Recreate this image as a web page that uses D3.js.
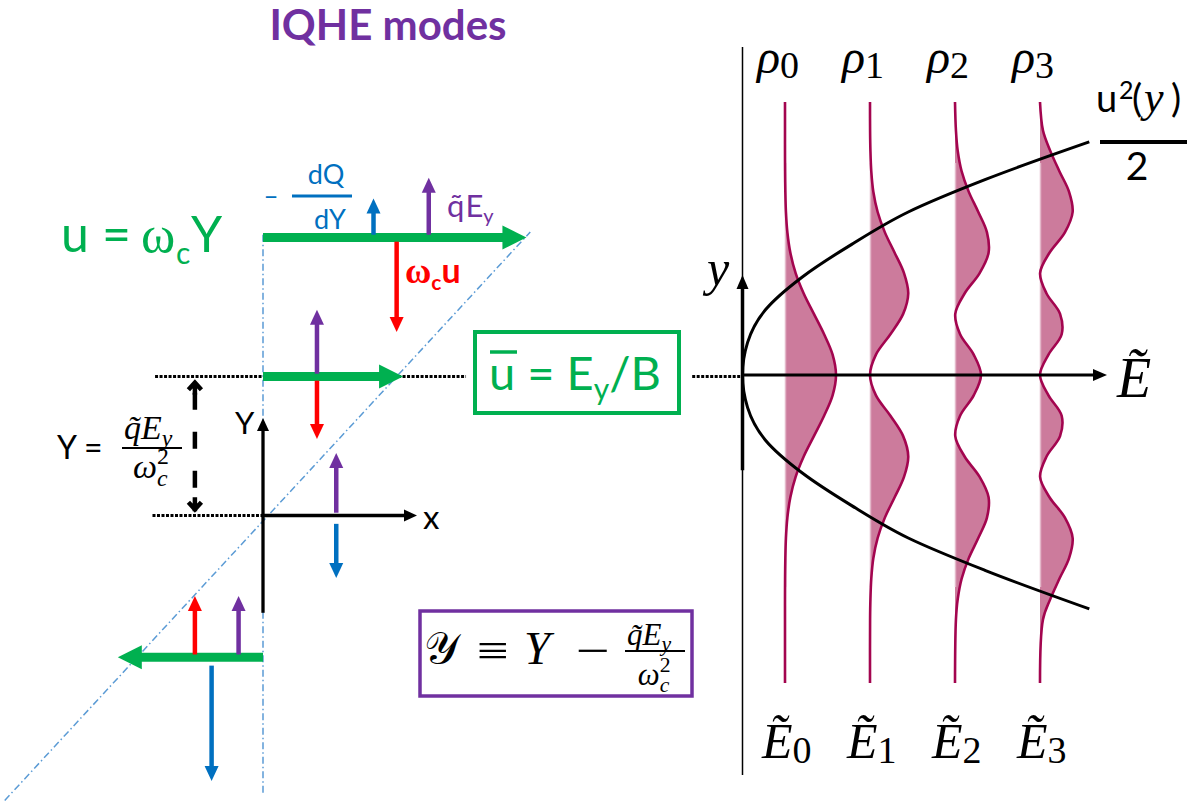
<!DOCTYPE html>
<html>
<head>
<meta charset="utf-8">
<script src="https://cdn.jsdelivr.net/npm/d3@7"></script>
<style>
body { margin: 0; background: #fff; }
svg { display: block; }
text { font-family: Lato, "Open Sans", sans-serif; }
.math { font-family: "Liberation Serif", "Times New Roman", serif; font-style: italic; }
.rm { font-family: "Liberation Serif", "Times New Roman", serif; font-style: normal; }
</style>
</head>
<body>
<div id="plot-container"></div>
<script>
// ---------- data ----------
// left panel: guiding-centre rows (Y) and drift velocity u = wc*Y
const rowY = [2.0, 1.0, -1.02];
const rowU = [2.05, 1.09, -1.13];
// force arrows on each row
const forceKind = ["dQ", "qE", "wu", "qE", "wu", "qE", "dQ", "wu", "qE", "dQ"];
const forceU = [0.86, 1.29, 1.04, 0.42, 0.42, 0.57, 0.57, -0.53, -0.19, -0.40];
const forceY0 = [2.02, 2.02, 1.97, 1.02, 0.97, 0.02, -0.06, -1.0, -1.0, -1.08];
const forceLen = [0.26, 0.41, -0.65, 0.46, -0.42, 0.43, -0.39, 0.42, 0.42, -0.83];
// dash-dot line u = wc*Y
const diagU = [-2.01, 2.08];
const diagY = [-2.05, 2.04];

// right panel: Landau levels and densities
const levelE = [0.5, 1.5, 2.5, 3.5];
const levelNames = ["0", "1", "2", "3"];
const rhoY = [3.35, 3.0, 2.75, 2.5, 2.25, 2.0, 1.75, 1.5, 1.25, 1.0, 0.75, 0.5, 0.25, 0,
  -0.25, -0.5, -0.75, -1.0, -1.25, -1.5, -1.75, -2.0, -2.25, -2.5, -2.75, -3.0, -3.78];
const rho0 = [0, 0, 0, 0.001, 0.004, 0.011, 0.028, 0.063, 0.125, 0.22, 0.34, 0.46, 0.56, 0.60,
  0.56, 0.46, 0.34, 0.22, 0.125, 0.063, 0.028, 0.011, 0.004, 0.001, 0, 0, 0];
const rho1 = [0, 0.001, 0.005, 0.015, 0.039, 0.09, 0.175, 0.29, 0.40, 0.45, 0.39, 0.24, 0.07, 0,
  0.07, 0.24, 0.39, 0.45, 0.40, 0.29, 0.175, 0.09, 0.039, 0.015, 0.005, 0.001, 0];
const rho2 = [0, 0.011, 0.032, 0.078, 0.161, 0.274, 0.376, 0.395, 0.29, 0.113, 0.003, 0.06, 0.22, 0.306,
  0.22, 0.06, 0.003, 0.113, 0.29, 0.395, 0.376, 0.274, 0.161, 0.078, 0.032, 0.011, 0];
const rho3 = [0, 0.035, 0.121, 0.228, 0.341, 0.384, 0.293, 0.112, 0.001, 0.077, 0.236, 0.255, 0.10, 0,
  0.10, 0.255, 0.236, 0.077, 0.001, 0.112, 0.293, 0.384, 0.341, 0.228, 0.121, 0.035, 0];
// u^2(y)/2 curve
const parY = [2.86, 2.4, 2.0, 1.6, 1.2, 0.8, 0.4, 0, -0.4, -0.8, -1.2, -1.6, -2.0, -2.4, -2.87];
const parE = [4.08, 2.86, 1.95, 1.28, 0.70, 0.27, 0.06, 0, 0.06, 0.27, 0.70, 1.28, 1.95, 2.86, 4.08];

const green = "#00b050", blue = "#0070c0", purple = "#7030a0", red = "#ff0000", guide = "#5b9bd5";
const forceColor = {dQ: blue, qE: purple, wu: red};
const rhoFill = "#cc7b9c", rhoLine = "#a3054f";

const W = 1191, H = 801;
const svg = d3.select("#plot-container").append("svg").attr("width", W).attr("height", H);
svg.append("rect").attr("width", W).attr("height", H).attr("fill", "#fff");

// scales
const xL = d3.scaleLinear().domain([0, 1]).range([263, 391.5]);
const yL = d3.scaleLinear().domain([0, 1]).range([515.5, 376.5]);
const xR = d3.scaleLinear().domain([0, 1]).range([742.5, 827.5]);
const yR = d3.scaleLinear().domain([0, 1]).range([375, 293.5]);

function arrow(g, x1, y1, x2, y2, color, w, hl, hw) {
    const dx = x2 - x1, dy = y2 - y1, L = Math.hypot(dx, dy);
    const ux = dx / L, uy = dy / L;
    const bx = x2 - ux * hl, by = y2 - uy * hl;
    g.append("line")
        .attr("x1", x1).attr("y1", y1)
        .attr("x2", bx + ux).attr("y2", by + uy)
        .attr("stroke", color).attr("stroke-width", w);
    const px = -uy * hw / 2, py = ux * hw / 2;
    g.append("path")
        .attr("d", `M${x2},${y2}L${bx + px},${by + py}L${bx - px},${by - py}Z`)
        .attr("fill", color);
}

// ---------- left panel ----------
const left = svg.append("g");

// dotted reference lines
const dotted = [[xL(-0.84), xL(1.58), yL(1)], [xL(3.34), 742, yL(1)], [xL(-0.86), xL(0), yL(0)]];
left.selectAll("line.dot")
    .data(dotted)
    .enter().append("line")
    .attr("x1", d => d[0]).attr("x2", d => d[1])
    .attr("y1", d => d[2]).attr("y2", d => d[2])
    .attr("stroke", "#000").attr("stroke-width", 3)
    .attr("stroke-dasharray", "3,1.5");

// dash-dot guides
left.append("line")
    .attr("x1", xL(0)).attr("x2", xL(0))
    .attr("y1", yL(2.02)).attr("y2", yL(-2.0))
    .attr("stroke", guide).attr("stroke-width", 1.5)
    .attr("stroke-dasharray", "7,3,1.5,3");
left.append("line")
    .attr("x1", xL(diagU[0])).attr("y1", yL(diagY[0]))
    .attr("x2", xL(diagU[1])).attr("y2", yL(diagY[1]))
    .attr("stroke", guide).attr("stroke-width", 1.5)
    .attr("stroke-dasharray", "7,3,1.5,3");

// X, Y axes
arrow(left, xL(0), yL(-0.7), xL(0), 418, "#000", 3.3, 13, 12);
arrow(left, xL(0) - 1.5, yL(0), 417, yL(0), "#000", 3.3, 13, 12);

// dashed double arrow for the displacement qE/wc^2
const dX = xL(-0.53);
left.append("line")
    .attr("x1", dX).attr("x2", dX)
    .attr("y1", yL(0.97)).attr("y2", yL(0.03))
    .attr("stroke", "#000").attr("stroke-width", 4.5)
    .attr("stroke-dasharray", "0,12,17,10");
[[yL(0.97), 1], [yL(0.03), -1]].forEach(([ty, s]) => {
    left.append("path")
        .attr("d", `M${dX - 6.5},${ty + s * 9}L${dX},${ty + s * 2}L${dX + 6.5},${ty + s * 9}M${dX},${ty + s * 2}L${dX},${ty + s * 14}`)
        .attr("fill", "none").attr("stroke", "#000").attr("stroke-width", 4.5);
});

// green velocity arrows
rowY.forEach((Y, i) => {
    arrow(left, xL(0), yL(Y), xL(rowU[i]), yL(Y), green, 9, 24, 24);
});

// force arrows
forceKind.forEach((k, i) => {
    arrow(left, xL(forceU[i]), yL(forceY0[i]), xL(forceU[i]), yL(forceY0[i] + forceLen[i]),
        forceColor[k], 4.5, 15, 14);
});

// boxes
left.append("rect").attr("x", 475).attr("y", 332).attr("width", 204).attr("height", 81)
    .attr("fill", "#fff").attr("stroke", green).attr("stroke-width", 4);
left.append("rect").attr("x", 420).attr("y", 611).attr("width", 272).attr("height", 85)
    .attr("fill", "#fff").attr("stroke", purple).attr("stroke-width", 3.5);

// ---------- left panel text ----------
svg.append("text").attr("x", 388).attr("y", 40).attr("text-anchor", "middle")
    .attr("font-size", 42).attr("font-weight", 700).attr("fill", purple).text("IQHE modes");

let t = svg.append("text").attr("y", 252).attr("font-size", 50).attr("fill", green);
t.append("tspan").attr("x", 61).text("u");
t.append("tspan").attr("x", 102).text("=");
t.append("tspan").attr("x", 141).attr("class", "rm").attr("font-size", 52).text("ω");
t.append("tspan").attr("x", 176).attr("font-size", 30).attr("dy", 12).text("c");
t.append("tspan").attr("x", 191).attr("dy", -12).text("Y");

// -dQ/dY
svg.append("text").attr("x", 271).attr("y", 205).attr("text-anchor", "middle")
    .attr("font-size", 26).attr("fill", blue).text("–");
svg.append("line").attr("x1", 292).attr("x2", 352).attr("y1", 196).attr("y2", 196)
    .attr("stroke", blue).attr("stroke-width", 3);
svg.append("text").attr("x", 326).attr("y", 184).attr("text-anchor", "middle")
    .attr("font-size", 27).attr("fill", blue).text("dQ");
svg.append("text").attr("x", 330).attr("y", 229).attr("text-anchor", "middle")
    .attr("font-size", 27).attr("fill", blue).text("dY");

// q~E_y
t = svg.append("text").attr("x", 447).attr("y", 217).attr("font-size", 31).attr("fill", purple);
t.append("tspan").text("q\u0303");
t.append("tspan").attr("dx", 1).text("E");
t.append("tspan").attr("font-size", 20).attr("dy", 6).text("y");

// wc u
t = svg.append("text").attr("x", 405).attr("y", 283).attr("font-size", 34).attr("font-weight", 700).attr("fill", red);
t.append("tspan").attr("class", "rm").attr("font-size", 36).text("ω");
t.append("tspan").attr("font-size", 21).attr("dy", 7).text("c");
t.append("tspan").attr("dy", -7).text("u");

// axis labels
svg.append("text").attr("x", 235).attr("y", 434).attr("font-size", 31).text("Y");
svg.append("text").attr("x", 423).attr("y", 529).attr("font-size", 33).text("x");

// Y = q~E_y / wc^2
svg.append("text").attr("x", 57).attr("y", 459).attr("font-size", 32).text("Y =");
function fracQE(x, yNum, yBar, yDen, size, barW) {
    t = svg.append("text").attr("class", "math").attr("x", x).attr("y", yNum).attr("font-size", size);
    t.append("tspan").text("q\u0303E");
    t.append("tspan").attr("font-size", size * 0.7).attr("dy", size * 0.2).text("y");
    svg.append("line").attr("x1", x - 2).attr("x2", x - 2 + barW).attr("y1", yBar).attr("y2", yBar)
        .attr("stroke", "#000").attr("stroke-width", 2);
    t = svg.append("text").attr("class", "math").attr("x", x + barW / 2 - size * 0.62).attr("y", yDen).attr("font-size", size);
    t.append("tspan").text("ω");
    t.append("tspan").attr("class", "rm").attr("font-size", size * 0.7).attr("dy", -size * 0.42).text("2");
    t.append("tspan").attr("font-size", size * 0.7).attr("dx", -size * 0.35).attr("dy", size * 0.66).text("c");
}
fracQE(124, 439, 448, 478, 34, 60);

// box texts
t = svg.append("text").attr("x", 489).attr("y", 390).attr("font-size", 47).attr("fill", green);
t.append("tspan").text("u = E");
t.append("tspan").attr("font-size", 30).attr("dy", 10).text("y");
t.append("tspan").attr("dy", -10).text("/B");
svg.append("line").attr("x1", 490).attr("x2", 517).attr("y1", 352).attr("y2", 352)
    .attr("stroke", green).attr("stroke-width", 3.5);

svg.append("text").attr("x", 424).attr("y", 663).attr("font-size", 44)
    .attr("font-family", "'DejaVu Serif', 'DejaVu Sans', serif").text("𝒴");
svg.append("text").attr("class", "rm").attr("x", 477).attr("y", 666).attr("font-size", 46)
    .attr("textLength", 32).attr("lengthAdjust", "spacingAndGlyphs").text("≡");
svg.append("text").attr("class", "math").attr("x", 524).attr("y", 664).attr("font-size", 47).text("Y");
svg.append("text").attr("class", "rm").attr("x", 576).attr("y", 666).attr("font-size", 46)
    .attr("textLength", 34).attr("lengthAdjust", "spacingAndGlyphs").text("−");
fracQE(627, 645, 651, 685, 31, 60);

// ---------- right panel ----------
const right = svg.append("g");

right.append("line").attr("x1", xR(0)).attr("x2", xR(0)).attr("y1", 47).attr("y2", 775)
    .attr("stroke", "#000").attr("stroke-width", 1.5);

const rhoSets = [rho0, rho1, rho2, rho3];
const area = d3.area().curve(d3.curveCatmullRom);
const line = d3.line().curve(d3.curveCatmullRom);
rhoSets.forEach((vals, n) => {
    const pts = vals.map((a, i) => ({y: rhoY[i], a: a}));
    right.append("path")
        .attr("d", area.y(d => yR(d.y)).x0(xR(levelE[n])).x1(d => xR(levelE[n] + d.a))(pts))
        .attr("fill", rhoFill);
    right.append("line")
        .attr("x1", xR(levelE[n]) + 0.5).attr("x2", xR(levelE[n]) + 0.5)
        .attr("y1", yR(2.6)).attr("y2", yR(-2.6))
        .attr("stroke", "#e3b8c9").attr("stroke-width", 1.5);
    right.append("path")
        .attr("d", line.x(d => xR(levelE[n] + d.a)).y(d => yR(d.y))(pts))
        .attr("fill", "none").attr("stroke", rhoLine).attr("stroke-width", 2.6);
});

// parabola
const parPts = parY.map((y, i) => [xR(parE[i]), yR(y)]);
right.append("path")
    .attr("d", d3.line().curve(d3.curveMonotoneY)(parPts))
    .attr("fill", "none").attr("stroke", "#000").attr("stroke-width", 3);

// axes
arrow(right, xR(0), yR(0), 1107, yR(0), "#000", 3, 14, 12);
arrow(right, xR(0), yR(-1.17), xR(0), 275, "#000", 3.5, 14, 12);

// labels
levelE.forEach((E, n) => {
    let r = svg.append("text").attr("class", "math").attr("x", xR(E) - 28).attr("y", 73).attr("font-size", 48);
    r.append("tspan").text("ρ");
    r.append("tspan").attr("class", "rm").attr("font-size", 38).attr("dy", 5).text(levelNames[n]);
    let e = svg.append("text").attr("class", "math").attr("x", xR(E) - 23).attr("y", 758).attr("font-size", 50);
    e.append("tspan").text("Ẽ");
    e.append("tspan").attr("class", "rm").attr("font-size", 38).attr("dy", 5).text(levelNames[n]);
});

svg.append("text").attr("class", "math").attr("x", 1117).attr("y", 397).attr("font-size", 56).text("Ẽ");
svg.append("text").attr("class", "math").attr("x", 707).attr("y", 285).attr("font-size", 50).text("y");

t = svg.append("text").attr("y", 112).attr("font-size", 38);
t.append("tspan").attr("x", 1096).text("u");
t.append("tspan").attr("x", 1119).attr("font-size", 25).attr("dy", -13).text("2");
t.append("tspan").attr("x", 1132).attr("dy", 13).text("(");
t.append("tspan").attr("x", 1144).attr("class", "math").attr("font-size", 44).text("y");
t.append("tspan").attr("x", 1171).text(")");
svg.append("line").attr("x1", 1100).attr("x2", 1187).attr("y1", 142).attr("y2", 142)
    .attr("stroke", "#000").attr("stroke-width", 4);
svg.append("text").attr("x", 1137).attr("y", 180).attr("text-anchor", "middle").attr("font-size", 39).text("2");
</script>
</body>
</html>
